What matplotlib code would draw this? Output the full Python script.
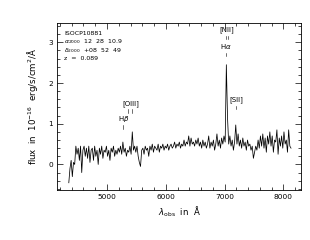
import numpy as np
import matplotlib
matplotlib.use("Agg")
import matplotlib.pyplot as plt
from matplotlib.ticker import MultipleLocator

wave_start = 4350
wave_step = 20
flux = [
    -0.45, -0.1, 0.1, -0.3, 0.05, 0.0, 0.45, 0.25, 0.4, 0.1,
    0.45, -0.2, 0.35, 0.45, 0.2, 0.4, 0.15, 0.45, 0.05, 0.35,
    0.4, 0.1, 0.45, 0.2, 0.35, 0.0, 0.4, 0.25, 0.45, 0.15,
    0.35, 0.3, 0.45, 0.2, 0.35, 0.1, 0.4, 0.3, 0.45, 0.2,
    0.35, 0.25, 0.4, 0.3, 0.45, 0.25, 0.55, 0.3, 0.4, 0.2,
    0.35, 0.3, 0.45, 0.25, 0.8, 0.35, 0.45, 0.3, 0.45, 0.2,
    0.05, -0.05, 0.35, 0.4, 0.25, 0.45, 0.35, 0.4, 0.2, 0.45,
    0.35, 0.5, 0.3, 0.45, 0.4, 0.35, 0.5, 0.3, 0.45, 0.4,
    0.5, 0.35, 0.45, 0.4, 0.5, 0.35, 0.45, 0.5, 0.4, 0.45,
    0.55, 0.4, 0.5, 0.45, 0.55, 0.4, 0.5, 0.45, 0.6, 0.45,
    0.55, 0.5, 0.7, 0.45, 0.65, 0.5, 0.55, 0.45, 0.6, 0.5,
    0.65, 0.45, 0.55, 0.4, 0.6, 0.45, 0.55, 0.4, 0.5, 0.7,
    0.4, 0.55, 0.45, 0.6, 0.35, 0.5, 0.75, 0.45, 0.6, 0.4,
    0.65, 0.5, 0.7, 0.55, 2.45, 1.15, 0.5, 0.7, 0.45, 0.6,
    0.35, 0.55, 0.97, 0.5, 0.75, 0.45, 0.6, 0.4, 0.65, 0.45,
    0.55, 0.35, 0.6, 0.45, 0.5, 0.35, 0.45, 0.15, 0.3, 0.45,
    0.35, 0.6, 0.4, 0.7, 0.45, 0.75, 0.4, 0.65, 0.3, 0.7,
    0.5, 0.8, 0.45, 0.7, 0.3, 0.6, 0.55, 0.85, 0.25, 0.65,
    0.45, 0.7, 0.4, 0.8, 0.5, 0.6, 0.3, 0.85, 0.45, 0.4,
]
wave = wave_start + wave_step * np.arange(len(flux))

info_lines = ["ISOCP10881", r"$\alpha_{2000}$  12  28  10.9",
              r"$\delta_{2000}$  +08  52  49", "z  =  0.089"]
line_names = ["[NII]", r"H$\alpha$", "[SII]", "[OIII]", r"H$\beta$"]
line_label_x = [7033, 7030, 7199, 5400, 5277]
line_label_y = [3.32, 2.89, 1.60, 1.50, 1.11]
marker_x = [[7016, 7050], [7030], [7199], [5364, 5430], [5277]]
marker_y = [(3.07, 3.16), (2.66, 2.75), (1.35, 1.43), (1.27, 1.35), (0.86, 0.97)]

fig = plt.figure(figsize=(3.1, 2.4), dpi=100)
ax = fig.add_axes([0.184, 0.208, 0.787, 0.697])
ax.plot(wave, flux, color="black", lw=0.55)
ax.set_xlim(4150, 8300)
ax.set_ylim(-0.63, 3.48)
ax.xaxis.set_major_locator(MultipleLocator(1000))
ax.xaxis.set_minor_locator(MultipleLocator(200))
ax.yaxis.set_major_locator(MultipleLocator(1))
ax.yaxis.set_minor_locator(MultipleLocator(0.2))
ax.tick_params(which="both", direction="in", top=True, right=True,
               labelsize=5.3, width=0.5, pad=3)
ax.tick_params(which="major", length=4)
ax.tick_params(which="minor", length=2)
for s in ax.spines.values():
    s.set_linewidth(0.6)

ax.set_xlabel(r"$\lambda_{\rm obs}$  in  Å", fontsize=6.2, labelpad=3)
ax.set_ylabel(r"flux  in  10$^{-16}$  erg/s/cm$^2$/Å", fontsize=6.2, labelpad=6)

for i, t in enumerate(info_lines):
    ax.text(0.03, 0.934 - i * 0.049, t, transform=ax.transAxes,
            fontsize=4.5, va="center", ha="left")

for name, lx, ly, mx, my in zip(line_names, line_label_x, line_label_y,
                                marker_x, marker_y):
    ax.text(lx, ly, name, fontsize=5, ha="center", va="center")
    for x in mx:
        ax.plot([x, x], list(my), color="black", lw=0.4)

fig.savefig("out.png", dpi=100)
